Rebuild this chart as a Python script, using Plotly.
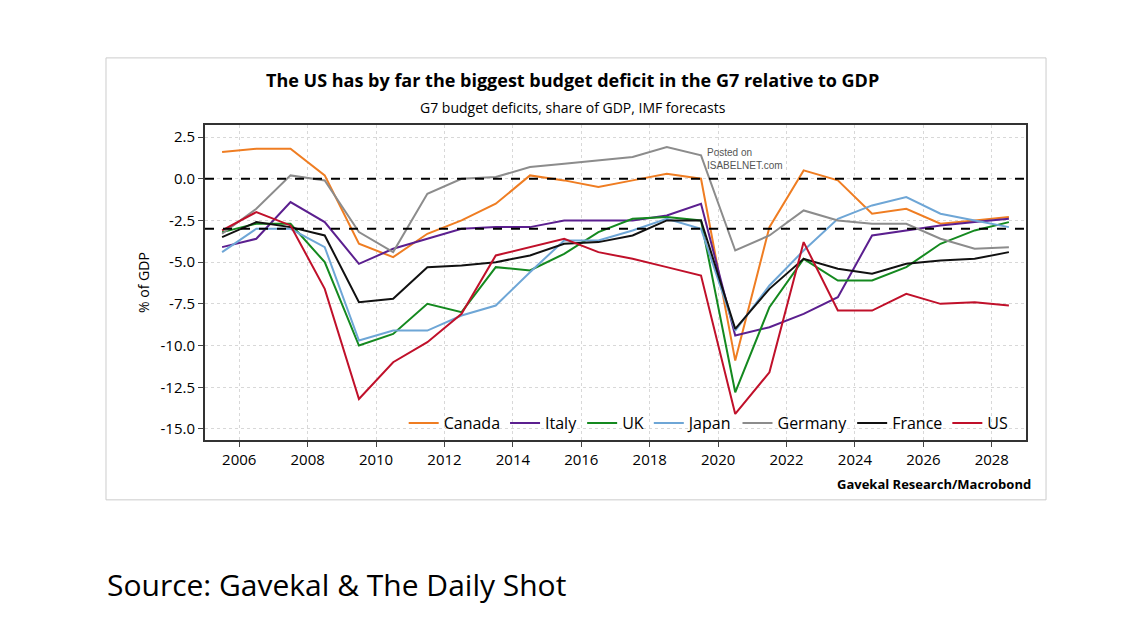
import plotly.graph_objs as go

years = [y + 0.5 for y in range(2005, 2029)]

canada = [1.6, 1.8, 1.8, 0.2, -3.9, -4.7, -3.3, -2.5, -1.5, 0.2, -0.1, -0.5,
          -0.1, 0.3, 0.0, -10.9, -2.9, 0.5, -0.1, -2.1, -1.8, -2.7, -2.5, -2.3]
italy = [-4.1, -3.6, -1.4, -2.6, -5.1, -4.2, -3.6, -3.0, -2.9, -2.9, -2.5, -2.5,
         -2.5, -2.2, -1.5, -9.4, -8.9, -8.1, -7.1, -3.4, -3.1, -2.8, -2.6, -2.4]
uk = [-3.2, -2.7, -2.7, -5.0, -10.0, -9.3, -7.5, -8.0, -5.3, -5.5, -4.5, -3.2,
      -2.4, -2.3, -2.5, -12.8, -7.7, -4.8, -6.1, -6.1, -5.3, -3.9, -3.1, -2.6]
japan = [-4.4, -3.0, -3.0, -4.1, -9.7, -9.1, -9.1, -8.2, -7.6, -5.6, -3.7, -3.7,
         -3.1, -2.4, -3.0, -9.1, -6.4, -4.3, -2.4, -1.6, -1.1, -2.1, -2.5, -2.9]
germany = [-3.3, -1.8, 0.2, -0.1, -3.2, -4.4, -0.9, 0.0, 0.1, 0.7, 0.9, 1.1,
           1.3, 1.9, 1.4, -4.3, -3.4, -1.9, -2.5, -2.7, -2.7, -3.6, -4.2, -4.1]
france = [-3.5, -2.6, -2.9, -3.4, -7.4, -7.2, -5.3, -5.2, -5.0, -4.6, -3.9, -3.8,
          -3.4, -2.5, -2.5, -9.0, -6.6, -4.8, -5.4, -5.7, -5.1, -4.9, -4.8, -4.4]
us = [-3.1, -2.0, -2.8, -6.6, -13.2, -11.0, -9.8, -8.1, -4.6, -4.1, -3.6, -4.4,
      -4.8, -5.3, -5.8, -14.1, -11.6, -3.8, -7.9, -7.9, -6.9, -7.5, -7.4, -7.6]

series = [
    ("Canada", canada, "#ef7d22"),
    ("Italy", italy, "#5b1f8f"),
    ("UK", uk, "#14891f"),
    ("Japan", japan, "#6ea6d6"),
    ("Germany", germany, "#8c8c8c"),
    ("France", france, "#111111"),
    ("US", us, "#c0102a"),
]

fig = go.Figure()
for name, vals, color in series:
    fig.add_trace(go.Scatter(x=years, y=vals, mode="lines", name=name,
                             line=dict(color=color, width=2)))

# reference lines at 0 and -3
for level in [0, -3]:
    fig.add_hline(y=level, line=dict(color="black", width=2, dash="dash"))

# outer box around the chart
fig.add_shape(type="rect", xref="paper", yref="paper", x0=-0.1206, x1=1.0244,
              y0=-0.19, y1=1.213, line=dict(color="#cccccc", width=1), layer="below")

def note(text, x, y, size, xanchor="center", **kw):
    fig.add_annotation(text=text, xref="paper", yref="paper", x=x, y=y,
                       showarrow=False, xanchor=xanchor, yanchor="middle",
                       font=dict(size=size, family="Open Sans", color="black"), **kw)

note("<b>The US has by far the biggest budget deficit in the G7 relative to GDP</b>", 0.448, 1.143, 18)
note("G7 budget deficits, share of GDP, IMF forecasts", 0.448, 1.054, 14)
note("<b>Gavekal Research/Macrobond</b>", 1.0085, -0.14, 13, xanchor="right")
note("Source: Gavekal & The Daily Shot", -0.1218, -0.46, 30, xanchor="left")

fig.add_annotation(text="Posted on<br>ISABELNET.com", xref="x", yref="y",
                   x=2020.8, y=1.2, showarrow=False, align="left",
                   font=dict(size=10, family="Liberation Sans", color="#555555"))

fig.update_layout(
    width=1141, height=644,
    margin=dict(l=197, r=123, t=117, b=212),
    paper_bgcolor="white", plot_bgcolor="white",
    font=dict(family="Open Sans", size=14, color="black"),
    showlegend=True,
    legend=dict(orientation="h", x=0.985, xanchor="right", y=0.0, yanchor="bottom",
                bgcolor="rgba(0,0,0,0)", font=dict(size=16), itemwidth=30),
)
fig.update_xaxes(range=[2005, 2029], tickvals=list(range(2006, 2029, 2)),
                 showgrid=True, gridcolor="#d8d8d8", griddash="dot",
                 showline=True, linecolor="#333333", linewidth=2, mirror=True,
                 ticks="outside", ticklen=5, tickfont=dict(size=15))
fig.update_yaxes(range=[-15.66, 3.22], tickvals=[2.5, 0, -2.5, -5, -7.5, -10, -12.5, -15],
                 ticktext=["2.5", "0.0", "-2.5", "-5.0", "-7.5", "-10.0", "-12.5", "-15.0"],
                 showgrid=True, gridcolor="#d8d8d8", griddash="dot", zeroline=False,
                 showline=True, linecolor="#333333", linewidth=2, mirror=True,
                 ticks="outside", ticklen=5, tickfont=dict(size=15),
                 title=dict(text="% of GDP", font=dict(size=14), standoff=8))

fig.write_html("out.html")
